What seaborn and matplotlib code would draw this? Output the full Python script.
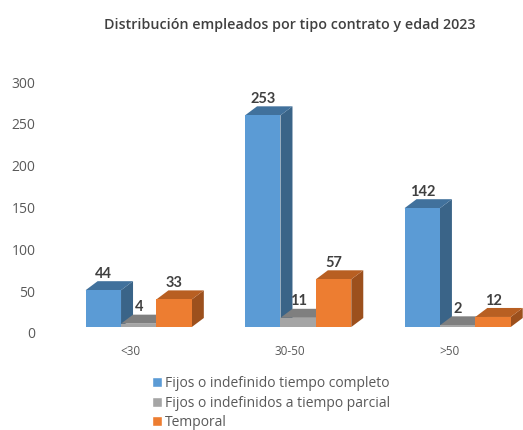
import pandas as pd
import matplotlib
matplotlib.use("Agg")
import matplotlib.pyplot as plt
from matplotlib.patches import Polygon
from matplotlib.transforms import ScaledTranslation
import seaborn as sns

categories = ["<30", "30-50", ">50"]
series_names = ["Fijos o indefinido tiempo completo", "Fijos o indefinidos a tiempo parcial", "Temporal"]
completo = [44, 253, 142]
parcial = [4, 11, 2]
temporal = [33, 57, 12]
y_ticks = [0, 50, 100, 150, 200, 250, 300]
colors = ["#5B9BD5", "#A5A5A5", "#ED7D31"]
top_colors = ["#41719C", "#7F7F7F", "#B85F22"]
side_colors = ["#3A6488", "#6F6F6F", "#9C501D"]

W, H = 523, 430
depth_x, depth_y = 12, 9

data = pd.DataFrame({
    "edad": categories * 3,
    "valor": completo + parcial + temporal,
    "tipo": [n for n in series_names for _ in categories],
})

sns.set_theme(style="white")
plt.rcParams["font.family"] = ["Open Sans", "DejaVu Sans"]

fig = plt.figure(figsize=(W / 100, H / 100), dpi=100)
ax = fig.add_axes([59 / W, (H - 327) / H, (W - 59) / W, 251 / H])

sns.barplot(data=data, x="edad", y="valor", hue="tipo", order=categories, hue_order=series_names,
            palette=colors, width=0.666, gap=0, saturation=1, ax=ax)
ax.set_xlim(-0.5, 2.41)
ax.set_ylim(0, 300)
ax.set_yticks(y_ticks)
ax.set_xlabel("")
ax.set_ylabel("")
sns.despine(ax=ax, left=True, bottom=True)

# pixel size of the fake 3d depth in data units
sx = (ax.get_xlim()[1] - ax.get_xlim()[0]) / (W - 59)
sy = 300 / 251
dx, dy = depth_x * sx, depth_y * sy

for i, cont in enumerate(ax.containers):
    for bar in cont:
        x0, w, h = bar.get_x(), bar.get_width(), bar.get_height()
        bar.set_zorder(3 + i)
        bar.set_linewidth(0)
        side = Polygon([(x0 + w, 0), (x0 + w + dx, dy), (x0 + w + dx, h + dy), (x0 + w, h)],
                       facecolor=side_colors[i], linewidth=0, zorder=2.5 + i, clip_on=False)
        top = Polygon([(x0, h), (x0 + dx, h + dy), (x0 + w + dx, h + dy), (x0 + w, h)],
                      facecolor=top_colors[i], linewidth=0, zorder=2.6 + i, clip_on=False)
        ax.add_patch(side)
        ax.add_patch(top)
    labels = ax.bar_label(cont, padding=6.8, fontsize=10.5, fontweight="bold", color="#404040",
                          family=["Lato", "DejaVu Sans"])
    for t in labels:
        t.set_zorder(10)

ax.tick_params(axis="y", length=0, labelsize=10, labelcolor="#595959", pad=17)
ax.tick_params(axis="x", length=0, labelsize=8.5, labelcolor="#595959", pad=13)
shift_y = ScaledTranslation(0, -6 / 100, fig.dpi_scale_trans)
for lab in ax.get_yticklabels():
    lab.set_transform(lab.get_transform() + shift_y)
shift_x = ScaledTranslation(-8 / 100, 0, fig.dpi_scale_trans)
for lab in ax.get_xticklabels():
    lab.set_transform(lab.get_transform() + shift_x)

fig.text(290 / W, 1 - 25 / H, "Distribución empleados por tipo contrato y edad 2023", ha="center", va="center",
         fontsize=10.3, fontweight="semibold", color="#404040")

sns.move_legend(ax, "upper left", bbox_to_anchor=(152 / W, 1 - 376 / H), bbox_transform=fig.transFigure,
                title=None, frameon=False, fontsize=10, handlelength=0.72, handleheight=0.72,
                handletextpad=0.22, labelspacing=0.33, borderpad=0, borderaxespad=0)
for t in ax.get_legend().get_texts():
    t.set_color("#595959")

fig.savefig("out.png", dpi=100)
